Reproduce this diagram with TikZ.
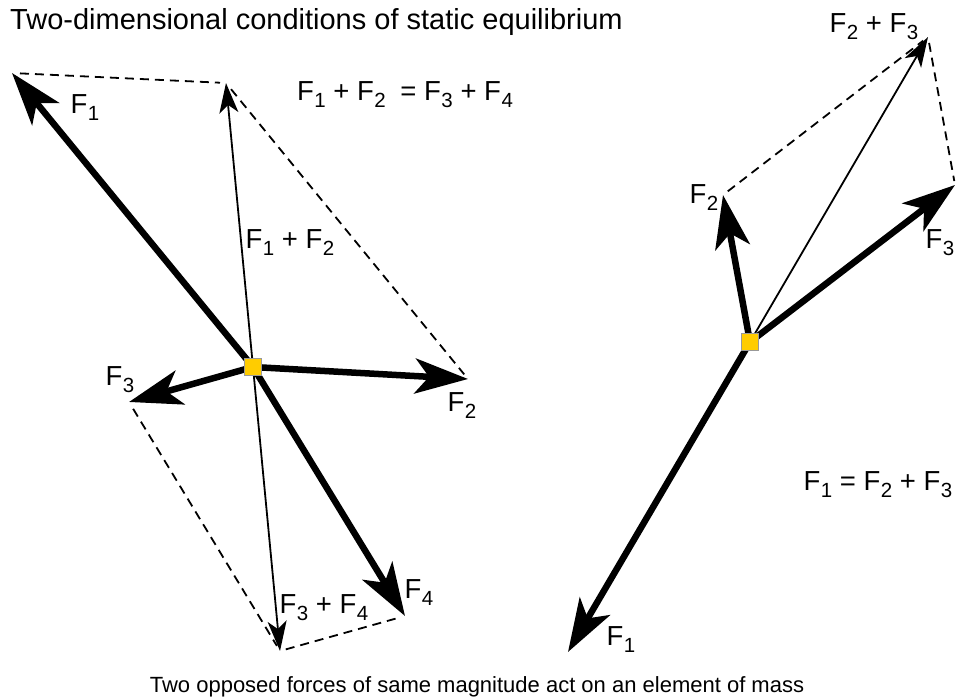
\documentclass[tikz,border=0pt]{standalone}
\usepackage{fontspec}
\setmainfont{Liberation Sans}
\usetikzlibrary{arrows.meta}
\newcommand\Fn[1]{F\kern0.5pt\raisebox{-7pt}{\fontsize{20.5}{20}\selectfont #1}}
\definecolor{massyellow}{RGB}{255,204,0}
\begin{document}
\begin{tikzpicture}[x=1pt,y=-1pt,
  force/.style={line width=6.5pt,-{Stealth[length=53pt,width=35pt,inset=14pt]}},
  resultant/.style={line width=1.8pt,-{Stealth[length=30pt,width=19pt,inset=8pt]}},
  helper/.style={line width=1.8pt,dash pattern=on 9pt off 6pt},
  lbl/.style={font=\fontsize{27.5}{30}\selectfont,inner sep=0pt},
  mass/.style={draw=black!40,line width=0.6pt,fill=massyellow,minimum size=17pt,inner sep=0pt}]
\useasboundingbox (0,0) rectangle (956,700);
% left diagram points
\coordinate (O) at (253,367);
\coordinate (A1) at (12,73);
\coordinate (A2) at (468,379);
\coordinate (A3) at (129,402);
\coordinate (A4) at (405,616);
\coordinate (S12) at (226,83);
\coordinate (S34) at (280,651);
% right diagram points
\coordinate (P) at (750,342);
\coordinate (B1) at (568,652);
\coordinate (B2) at (723,195);
\coordinate (B3) at (955,185);
\coordinate (S23) at (928,37);
% dashed parallelogram sides
\draw[helper,shorten <=8pt,shorten >=6pt] (A1) -- (S12);
\draw[helper,shorten <=8pt,shorten >=6pt] (S12) -- (A2);
\draw[helper,shorten <=8pt,shorten >=6pt] (A3) -- (S34);
\draw[helper,shorten <=6pt,shorten >=4pt] (S34) -- (A4);
\draw[helper,shorten <=6pt,shorten >=6pt] (B2) -- (S23);
\draw[helper,shorten <=6pt,shorten >=4pt] (S23) -- (B3);
% resultants
\draw[resultant] (O) -- (S12);
\draw[resultant] (O) -- (S34);
\draw[resultant] (P) -- (S23);
% forces
\draw[force] (O) -- (A1);
\draw[force] (O) -- (A2);
\draw[force] (O) -- (A3);
\draw[force] (O) -- (A4);
\draw[force] (P) -- (B1);
\draw[force] (P) -- (B2);
\draw[force] (P) -- (B3);
% masses
\node[mass] (m1) at (O) {};
\node[mass] (m2) at (P) {};
% labels
\node[lbl] (l1) at (85,108) {\Fn{1}};
\node[lbl] (l12) at (290,243) {\Fn{1} + \Fn{2}};
\node[lbl] (l2) at (462,406) {\Fn{2}};
\node[lbl] (l3) at (120,380) {\Fn{3}};
\node[lbl] (l4) at (419,593) {\Fn{4}};
\node[lbl] (l34) at (324,608) {\Fn{3} + \Fn{4}};
\node[lbl] (eq1) at (405,95) {\Fn{1} + \Fn{2}\hspace{7pt} = \Fn{3} + \Fn{4}};
\node[lbl] (r23) at (874,27) {\Fn{2} + \Fn{3}};
\node[lbl] (r2) at (704,198) {\Fn{2}};
\node[lbl] (r3) at (940,243) {\Fn{3}};
\node[lbl] (r1) at (621,640) {\Fn{1}};
\node[lbl] (eq2) at (878,485) {\Fn{1} = \Fn{2} + \Fn{3}};
\node[font=\fontsize{29}{30}\selectfont,inner sep=0pt,anchor=west] (title) at (10,22) {Two-dimensional conditions of static equilibrium};
\node[font=\fontsize{22}{24}\selectfont,inner sep=0pt] (cap) at (477,687) {Two opposed forces of same magnitude act on an element of mass};
\end{tikzpicture}
\end{document}
